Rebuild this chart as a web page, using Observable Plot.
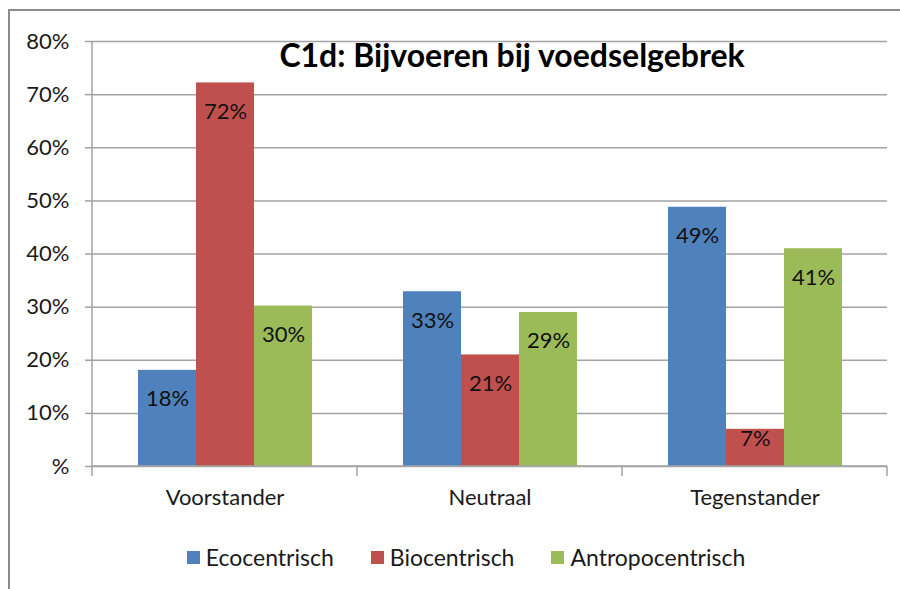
<!DOCTYPE html>
<html><head><meta charset="utf-8">
<script src="https://cdn.jsdelivr.net/npm/d3@7"></script>
<script src="https://cdn.jsdelivr.net/npm/@observablehq/plot@0.6"></script>
<style>
body{margin:0;background:#fff;}
#wrap{position:relative;width:900px;height:589px;overflow:hidden;font-family:Lato,sans-serif;color:#1a1a1a;}
#border{position:absolute;left:8px;top:9px;width:1000px;height:1000px;border-left:2px solid #8c8c8c;border-top:2px solid #8c8c8c;}
#chart{position:absolute;left:0;top:0;}
#title{position:absolute;left:0;top:36px;width:1024px;text-align:center;font-weight:bold;font-size:32px;line-height:38px;color:#000;}
#legend{position:absolute;left:0;top:543px;width:932px;display:flex;justify-content:center;gap:37px;font-size:23px;line-height:28px;}
#legend span.item{display:flex;align-items:center;}
#legend span.sw{display:inline-block;width:13px;height:13px;margin-right:6px;}
</style>
</head><body>
<div id="wrap">
<div id="border"></div>
<div id="chart"></div>
<div id="title"></div>
<div id="legend"></div>
</div>
<script>
const title = "C1d: Bijvoeren bij voedselgebrek";
const groups = ["Voorstander", "Neutraal", "Tegenstander"];
const series = ["Ecocentrisch", "Biocentrisch", "Antropocentrisch"];
const ecocentrisch = [18.1, 32.9, 48.8];
const biocentrisch = [72.2, 21.0, 7.0];
const antropocentrisch = [30.2, 29.0, 41.0];
const yTicks = [0, 10, 20, 30, 40, 50, 60, 70, 80];
const yTickLabels = ["%", "10%", "20%", "30%", "40%", "50%", "60%", "70%", "80%"];
const colors = ["#4F81BD", "#C0504D", "#9BBB59"];

const seriesValues = [ecocentrisch, biocentrisch, antropocentrisch];
const rows = series.flatMap((s, si) => groups.map((g, gi) => ({group: g, series: s, value: seriesValues[si][gi]})));

const gridColor = "#a3a3a3";
const labelOpts = {fx: "group", x: "series", y: "value", text: d => Math.round(d.value) + "%", lineAnchor: "middle", fill: "#111", fontSize: 22};
const chart = Plot.plot({
  width: 900, height: 520,
  marginLeft: 92, marginRight: 13, marginTop: 41, marginBottom: 54,
  style: {fontFamily: "Lato, sans-serif", fontSize: "22px", color: "#1a1a1a", background: "transparent", overflow: "visible"},
  fx: {domain: groups, paddingInner: 0, paddingOuter: 0, label: null},
  x: {domain: series, paddingInner: 0, paddingOuter: 0.746, axis: null},
  y: {domain: [0, 80], label: null},
  color: {domain: series, range: colors},
  marks: [
    Plot.gridY(yTicks, {stroke: gridColor, strokeOpacity: 1, strokeWidth: 1.5}),
    Plot.axisY(yTicks, {tickFormat: d => yTickLabels[yTicks.indexOf(d)], tickSize: 7, tickPadding: 16, stroke: gridColor, strokeWidth: 1.5, fontSize: 22, label: null}),
    Plot.barY(rows, {fx: "group", x: "series", y: "value", fill: "series"}),
    Plot.text(rows, {...labelOpts, filter: d => d.value >= 10, dy: 29}),
    Plot.text(rows, {...labelOpts, filter: d => d.value < 10, dy: 10}),
    Plot.axisFx({anchor: "bottom", tickSize: 0, tickPadding: 23, fontSize: 22, label: null})
  ]
});
document.getElementById("chart").appendChild(chart);

// x baseline, y-axis line and category boundary ticks from Plot's scales
const fx = chart.scale("fx"), y = chart.scale("y");
const y0 = y.apply(0), yTop = y.apply(yTicks[yTicks.length - 1]);
const bounds = groups.map(g => fx.apply(g)).concat([fx.apply(groups[groups.length - 1]) + fx.bandwidth]);
const svg = d3.select(chart);
const g = svg.append("g").attr("stroke", gridColor).attr("stroke-width", 1.5);
g.append("line").attr("x1", bounds[0]).attr("x2", bounds[bounds.length - 1]).attr("y1", y0).attr("y2", y0);
g.append("line").attr("x1", bounds[0]).attr("x2", bounds[0]).attr("y1", yTop).attr("y2", y0);
bounds.forEach(b => g.append("line").attr("x1", b).attr("x2", b).attr("y1", y0).attr("y2", y0 + 10));

document.getElementById("title").textContent = title;
const legend = d3.select("#legend");
series.forEach((s, i) => {
  const it = legend.append("span").attr("class", "item");
  it.append("span").attr("class", "sw").style("background", colors[i]);
  it.append("span").text(s);
});
</script>
</body></html>
